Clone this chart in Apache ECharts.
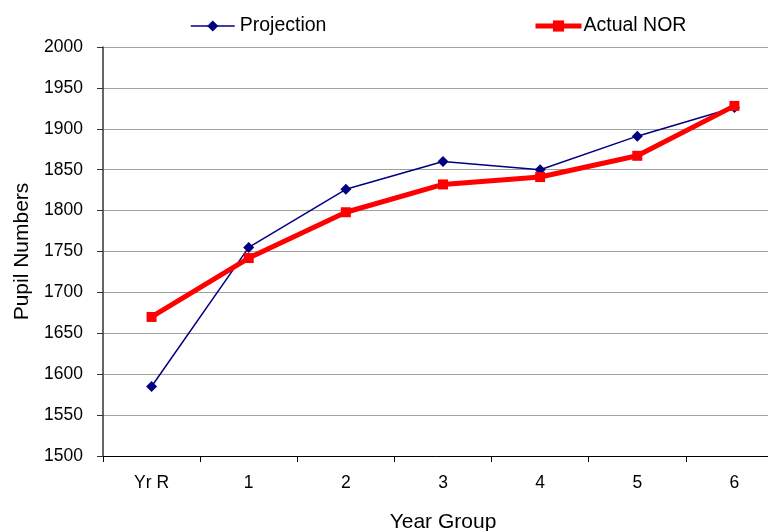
<!DOCTYPE html>
<html>
<head>
<meta charset="utf-8">
<script src="https://cdn.jsdelivr.net/npm/echarts@6/dist/echarts.min.js"></script>
<style>
  html, body { margin: 0; padding: 0; background: #fff; }
  #chart { width: 768px; height: 531px; }
</style>
</head>
<body>
<div id="chart"></div>
<script>
// Year groups along the x axis
const yearGroups = ['Yr R', '1', '2', '3', '4', '5', '6'];
// Projected pupil numbers per year group
const projection = [1585, 1755, 1826, 1860, 1850, 1891, 1926];
// Actual number on roll per year group
const actualNor = [1670, 1742, 1798, 1832, 1841, 1867, 1928];

const FONT = 'Liberation Sans, Arial, sans-serif';

const chart = echarts.init(document.getElementById('chart'), null, { renderer: 'canvas' });

chart.setOption({
  animation: false,
  backgroundColor: '#ffffff',
  textStyle: { fontFamily: FONT },
  legend: [
    {
      data: ['Projection'],
      left: 185, top: 11,
      itemWidth: 44, itemHeight: 14, itemGap: 0,
      lineStyle: { width: 1.5 },
      textStyle: { fontFamily: FONT, fontSize: 19.5, color: '#000', padding: [0, 0, 0, 0] }
    },
    {
      data: ['Actual NOR'],
      left: 528, top: 11,
      itemWidth: 46, itemHeight: 14, itemGap: 0,
      lineStyle: { width: 5 },
      textStyle: { fontFamily: FONT, fontSize: 19.5, color: '#000', padding: [0, 0, 0, -3] }
    }
  ],
  // The plot area deliberately runs past the right edge, so no outer-bounds clamping
  grid: { left: 103, top: 47, width: 680, height: 409, containLabel: false, outerBoundsMode: 'none' },
  xAxis: {
    type: 'category',
    data: yearGroups,
    boundaryGap: true,
    name: 'Year Group',
    nameLocation: 'middle',
    nameGap: 56,
    nameTextStyle: { fontFamily: FONT, fontSize: 21, color: '#000' },
    axisLine: { lineStyle: { color: '#000', width: 1 } },
    axisTick: { show: true, alignWithLabel: false, length: 6, lineStyle: { color: '#000' } },
    axisLabel: { fontFamily: FONT, fontSize: 17.5, color: '#000', margin: 18 },
    splitLine: { show: false }
  },
  yAxis: {
    type: 'value',
    min: 1500, max: 2000, interval: 50,
    name: 'Pupil Numbers',
    nameLocation: 'middle',
    nameGap: 70,
    nameTextStyle: { fontFamily: FONT, fontSize: 21, color: '#000' },
    axisLine: { show: true, lineStyle: { color: '#333', width: 1.5 } },
    axisTick: { show: true, length: 6, lineStyle: { color: '#333' } },
    axisLabel: {
      fontFamily: FONT, fontSize: 17.5, color: '#000', margin: 20,
      formatter: (v) => String(v)
    },
    splitLine: { show: true, lineStyle: { color: '#a0a0a0', width: 1 } }
  },
  series: [
    {
      name: 'Projection',
      type: 'line',
      data: projection,
      symbol: 'diamond',
      symbolSize: 11,
      z: 2,
      itemStyle: { color: '#000080' },
      lineStyle: { color: '#000080', width: 1.5 }
    },
    {
      name: 'Actual NOR',
      type: 'line',
      data: actualNor,
      symbol: 'rect',
      symbolSize: 10,
      z: 3,
      itemStyle: { color: '#ff0000' },
      lineStyle: { color: '#ff0000', width: 5 }
    }
  ]
});
</script>
</body>
</html>
